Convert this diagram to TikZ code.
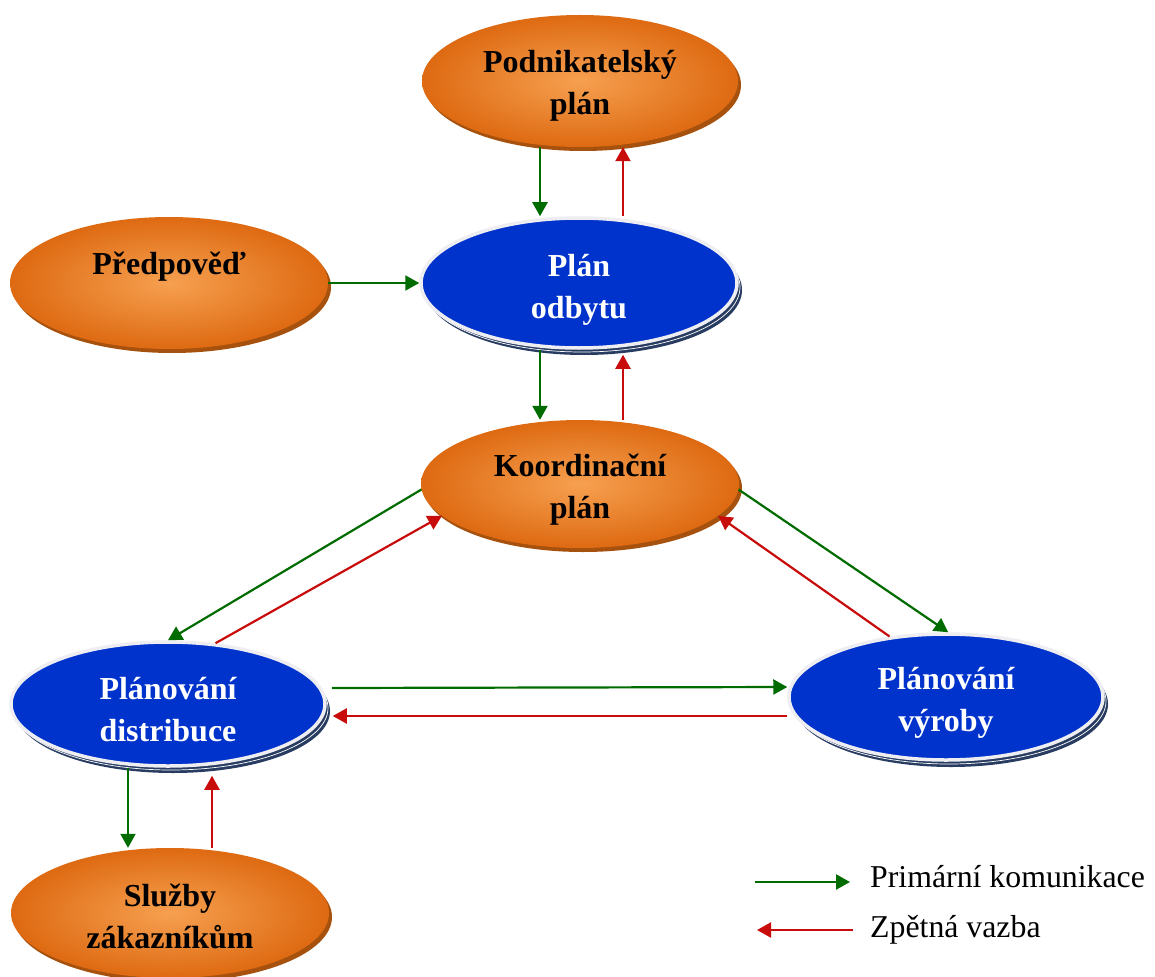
\documentclass[tikz,border=0pt]{standalone}
\usepackage{fontspec}
\setmainfont{Liberation Serif}
\usetikzlibrary{shapes.geometric,shadows,arrows.meta}

\definecolor{ocenter}{RGB}{246,160,80}
\definecolor{oedge}{RGB}{222,106,18}
\definecolor{oshadow}{RGB}{166,82,14}
\definecolor{bfill}{RGB}{0,51,204}
\definecolor{brim}{RGB}{238,238,242}
\definecolor{bshadow}{RGB}{40,60,98}
\definecolor{agreen}{RGB}{0,108,0}
\definecolor{ared}{RGB}{200,12,12}

\pgfdeclareradialshading{orangeball}{\pgfpointorigin}{%
  color(0bp)=(ocenter); color(25bp)=(oedge); color(50bp)=(oedge)}

\tikzset{
  oval/.style={ellipse, inner sep=0pt},
  ovaltext/.style={align=center, inner sep=0pt,
    font=\bfseries\fontsize{32}{42}\selectfont},
  orangeoval/.style={oval, shade, shading=orangeball,
    general shadow={fill=oshadow, shadow xshift=3pt, shadow yshift=-4pt}},
  blueoval/.style={oval, fill=bfill, draw=brim, line width=3.5pt,
    general shadow={fill=bshadow, shadow xshift=5pt, shadow yshift=-7pt},
    general shadow={draw=white, fill=none, line width=0.7pt, shadow xshift=3pt, shadow yshift=-4pt}},
  darktext/.style={ovaltext, text=black},
  lighttext/.style={ovaltext, text=white},
  fwd/.style={draw=agreen, line width=2.2pt, -{Triangle[length=14pt,width=15pt]}},
  back/.style={draw=ared, line width=2.2pt, -{Triangle[length=14pt,width=15pt]}},
  legendtext/.style={anchor=west, inner sep=0pt, font=\fontsize{31.8}{37}\selectfont}
}

\begin{document}
\begin{tikzpicture}[x=1pt, y=-1pt]
  \fill[white] (0,0) rectangle (1155,976);
  \useasboundingbox (0,0) rectangle (1155,976);

  % planning ellipses
  \node[orangeoval, minimum width=316pt, minimum height=132pt,
    label={[darktext, yshift=-5pt]center:{Podnikatelský\\plán}}] (pod) at (580,81) {};
  \node[orangeoval, minimum width=318pt, minimum height=132pt,
    label={[darktext, yshift=16pt]center:{Předpověď}}] (pred) at (169,283) {};
  \node[blueoval, minimum width=316pt, minimum height=130pt,
    label={[lighttext, yshift=-7pt]center:{Plán\\odbytu}}] (plan) at (579,283) {};
  \node[orangeoval, minimum width=318pt, minimum height=128pt,
    label={[darktext, yshift=-6pt]center:{Koordinační\\plán}}] (koord) at (580,484) {};
  \node[blueoval, minimum width=314pt, minimum height=124pt,
    label={[lighttext, yshift=-6pt]center:{Plánování\\distribuce}}] (dist) at (168,704) {};
  \node[blueoval, minimum width=314pt, minimum height=126pt,
    label={[lighttext, yshift=-6pt]center:{Plánování\\výroby}}] (vyr) at (946,697) {};
  \node[orangeoval, minimum width=318pt, minimum height=130pt,
    label={[darktext, yshift=-3pt]center:{Služby\\zákazníkům}}] (sluz) at (170,913) {};

  % primary communication
  \draw[fwd] ([xshift=-40pt]pod.south) -- ([xshift=-39pt]plan.north);
  \draw[fwd] (pred.east) -- (plan.west);
  \draw[fwd] ([xshift=-39pt]plan.south) -- ([xshift=-40pt]koord.north);
  \draw[fwd] (koord.182) -- (dist.north);
  \draw[fwd] (koord.358) -- (vyr.88);
  \draw[fwd] ([xshift=5pt,yshift=16pt]dist.east) -- ([yshift=10pt]vyr.west);
  \draw[fwd] ([xshift=-40pt]dist.south) -- ([xshift=-42pt]sluz.north);

  % feedback
  \draw[back] ([xshift=44pt]plan.north) -- ([xshift=43pt]pod.south);
  \draw[back] ([xshift=43pt]koord.north) -- ([xshift=44pt,yshift=-5pt]plan.south);
  \draw[back] (dist.52) -- (koord.193);
  \draw[back] (vyr.133) -- (koord.347);
  \draw[back] ([yshift=-19pt]vyr.west) -- ([xshift=6pt,yshift=-12pt]dist.east);
  \draw[back] ([xshift=42pt]sluz.north) -- ([xshift=44pt,yshift=-8pt]dist.south);

  % legend
  \coordinate (lg1a) at (755,882);
  \coordinate (lg1b) at (850,882);
  \coordinate (lg2a) at (853,930);
  \coordinate (lg2b) at (757,930);
  \draw[fwd] (lg1a) -- (lg1b);
  \draw[back] (lg2a) -- (lg2b);
  \node[legendtext] (lgt1) at (870,877) {Primární komunikace};
  \node[legendtext] (lgt2) at (870,930) {Zpětná vazba};
\end{tikzpicture}
\end{document}
